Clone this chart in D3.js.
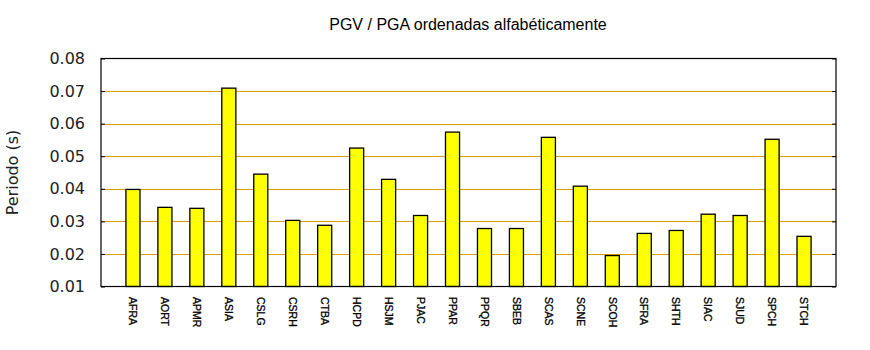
<!DOCTYPE html>
<html>
<head>
<meta charset="utf-8">
<script src="https://cdn.jsdelivr.net/npm/d3@7"></script>
<style>
  html, body { margin: 0; padding: 0; background: #fff; }
  svg { display: block; }
</style>
</head>
<body>
<svg id="chart" width="870" height="350"></svg>
<script>
// Station codes, in alphabetical order
const stations = ["AFRA","AORT","APMR","ASIA","CSLG","CSRH","CTBA","HCPD","HSJM","PJAC","PPAR",
                  "PPQR","SBEB","SCAS","SCNE","SCOH","SFRA","SHTH","SIAC","SJUD","SPCH","STCH"];
// PGV / PGA ratio per station (s)
const ratios = [0.0398,0.0343,0.0340,0.0709,0.0445,0.0303,0.0288,0.0525,0.0429,0.0318,0.0574,
                0.0278,0.0278,0.0558,0.0408,0.0195,0.0263,0.0272,0.0322,0.0318,0.0552,0.0254];
const yTicks = [0.01,0.02,0.03,0.04,0.05,0.06,0.07,0.08];
const title = "PGV / PGA ordenadas alfabéticamente";
const yLabel = "Periodo (s)";

const svg = d3.select("#chart");
const plotLeft = 101, plotRight = 836, plotTop = 58.5, plotBottom = 286.5;

const x = d3.scaleLinear().domain([0, stations.length + 1]).range([plotLeft, plotRight]);
const y = d3.scaleLinear().domain([0.01, 0.08]).range([plotBottom, plotTop]);
const step = x(1) - x(0);
const barW = step * 0.44;

// Horizontal grid lines
svg.append("g")
  .attr("shape-rendering", "crispEdges")
  .selectAll("line")
  .data(yTicks.slice(1, -1))
  .join("line")
  .attr("x1", plotLeft).attr("x2", plotRight)
  .attr("y1", d => Math.round(y(d)) + 0.5).attr("y2", d => Math.round(y(d)) + 0.5)
  .attr("stroke", "#dd9f00").attr("stroke-width", 1);

// Bars
svg.append("g")
  .selectAll("rect")
  .data(stations)
  .join("rect")
  .attr("x", (d, i) => x(i + 1) - barW / 2)
  .attr("width", barW)
  .attr("y", (d, i) => y(ratios[i]))
  .attr("height", (d, i) => y(0.01) - y(ratios[i]))
  .attr("fill", "#ffff00")
  .attr("stroke", "#000")
  .attr("stroke-width", 1.3);

// Left axis with inward ticks and labels
const yAxis = d3.axisLeft(y).tickValues(yTicks).tickSize(-4).tickPadding(16)
  .tickFormat(d3.format(".2f"));
const gy = svg.append("g").attr("transform", `translate(${plotLeft},0)`).call(yAxis);
gy.select(".domain").remove();
gy.selectAll(".tick line").attr("stroke", "#000");
gy.selectAll(".tick text")
  .attr("font-family", "DejaVu Sans, sans-serif")
  .attr("font-size", 16)
  .attr("fill", "#222");

// Right axis: ticks only
const gr = svg.append("g").attr("transform", `translate(${plotRight},0)`)
  .call(d3.axisRight(y).tickValues(yTicks).tickSize(-4).tickFormat(""));
gr.select(".domain").remove();
gr.selectAll(".tick line").attr("stroke", "#000");

// Plot frame
svg.append("rect")
  .attr("x", plotLeft).attr("y", plotTop)
  .attr("width", plotRight - plotLeft).attr("height", plotBottom - plotTop)
  .attr("fill", "none").attr("stroke", "#000").attr("stroke-width", 1.2);

// Station labels, rotated
svg.append("g")
  .selectAll("text")
  .data(stations)
  .join("text")
  .attr("transform", (d, i) => `translate(${x(i + 1) - 3.8},297) rotate(90)`)
  .attr("font-family", "Liberation Sans, Arial, sans-serif")
  .attr("font-size", 10.5)
  .attr("fill", "#000")
  .attr("stroke", "#000")
  .attr("stroke-width", 0.3)
  .text(d => d);

// Title
svg.append("text")
  .attr("x", (plotLeft + plotRight) / 2 - 0.5).attr("y", 30)
  .attr("text-anchor", "middle")
  .attr("font-family", "Liberation Sans, Arial, sans-serif")
  .attr("font-size", 16)
  .attr("fill", "#000")
  .text(title);

// Y axis title
svg.append("text")
  .attr("transform", `translate(18,${(plotTop + plotBottom) / 2}) rotate(-90)`)
  .attr("text-anchor", "middle")
  .attr("font-family", "DejaVu Sans, sans-serif")
  .attr("font-size", 16)
  .attr("fill", "#222")
  .text(yLabel);
</script>
</body>
</html>
